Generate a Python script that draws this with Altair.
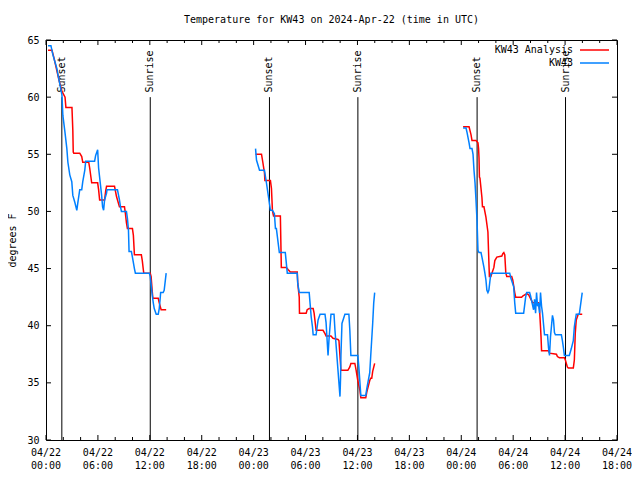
import altair as alt
import pandas as pd

# ---- data: hours since 2024-04-22 00:00 UTC, temperatures in degrees F ----
series_names = ["KW43 Analysis", "KW43"]
series_colors = ["#ff0000", "#0080ff"]

# KW43 Analysis (red)
an1_h = [0.23, 0.69, 0.9, 1.2, 1.5, 1.85, 2.2, 2.3, 3.0, 3.1, 3.15, 3.21, 3.9, 4.13, 4.25, 4.94, 5.05, 5.28,
         5.97, 6.08, 6.20, 6.77, 6.9, 7.0, 7.92, 8.15, 8.49, 9.07, 9.18, 9.30, 9.41, 9.99, 10.1, 10.22, 11.02,
         11.13, 11.25, 11.3, 12.05, 12.15, 12.28, 12.35, 12.97, 13.09, 13.31, 13.89]
an1_f = [64.1, 64.1, 63.5, 62.5, 61.5, 60.5, 60.0, 59.1, 59.1, 57.1, 55.2, 55.1, 55.1, 54.8, 54.3, 54.3, 53.8, 52.5,
         52.5, 51.9, 51.0, 51.0, 51.8, 52.2, 52.2, 51.3, 50.4, 50.4, 49.8, 49.0, 48.5, 48.5, 47.9, 46.2, 46.2,
         45.7, 44.9, 44.6, 44.6, 44.3, 43.0, 42.4, 42.4, 42.0, 41.4, 41.4]
an2_h = [24.22, 24.91, 25.02, 25.25, 25.30, 25.94, 26.06, 26.17, 26.30, 27.09, 27.20, 27.78, 28.0, 28.24, 29.04,
         29.10, 29.27, 29.30, 30.07, 30.19, 30.42, 30.88, 30.99, 31.22, 32.02, 32.25, 32.37, 32.94, 33.17, 33.75,
         33.86, 34.09, 34.89, 35.12, 35.24, 35.70, 35.85, 36.04, 36.27, 36.39, 36.96, 37.08, 37.42, 37.53, 37.65,
         37.76, 37.99]
an2_f = [55.0, 55.0, 54.5, 53.4, 52.7, 52.7, 52.0, 50.1, 49.6, 49.6, 45.1, 45.1, 44.9, 44.7, 44.7,
         43.7, 42.5, 41.1, 41.1, 41.4, 41.5, 41.5, 41.1, 39.6, 39.6, 39.3, 39.1, 39.1, 38.9, 38.8,
         38.7, 36.1, 36.1, 36.4, 36.7, 36.7, 36.1, 35.2, 34.4, 33.7, 33.7, 34.2, 35.2, 35.4, 35.4,
         36.0, 36.7]
an3_h = [48.21, 48.90, 49.13, 49.24, 49.70, 49.93, 50.00, 50.05, 50.10, 50.16, 50.39, 50.45, 50.62, 50.85, 51.08,
         51.19, 51.25, 51.42, 51.77, 51.88, 52.11, 52.69, 52.80, 52.92, 53.03, 53.15, 53.26, 53.83, 53.95, 54.18,
         54.29, 54.98, 55.10, 55.56, 55.79, 56.13, 56.24, 56.93, 57.05, 57.16, 57.22, 57.28, 58.08, 58.20, 59.00,
         59.11, 59.34, 59.92, 60.03, 60.26, 60.37, 60.95, 61.07, 61.18, 61.29, 61.52, 61.98]
an3_f = [57.4, 57.4, 56.7, 56.2, 56.2, 56.0, 55.5, 54.7, 53.0, 52.9, 51.2, 50.4, 50.4, 49.5, 48.2,
         45.6, 44.3, 44.3, 45.1, 45.7, 46.0, 46.1, 46.3, 46.4, 46.2, 44.6, 44.3, 44.3, 44.0, 42.9,
         42.5, 42.5, 42.6, 42.8, 42.7, 42.2, 42.0, 42.0, 41.4, 39.9, 39.0, 37.8, 37.8, 37.6, 37.5,
         37.3, 37.2, 37.2, 37.0, 36.4, 36.3, 36.3, 37.0, 39.4, 40.5, 41.0, 41.0]

# KW43 observations (blue)
ob1_h = [0.23, 0.57, 0.80, 1.03, 1.26, 1.38, 1.84, 1.95, 2.18, 2.41, 2.53, 2.75, 2.98, 3.10, 3.33, 3.56, 3.67,
         3.90, 4.13, 4.25, 4.48, 4.59, 5.62, 5.74, 5.97, 6.08, 6.43, 6.54, 6.66, 6.77, 7.00, 7.05, 8.26, 8.49,
         8.61, 8.72, 9.30, 9.41, 9.53, 9.60, 9.87, 9.99, 10.22, 10.33, 11.94, 12.05, 12.28, 12.40, 12.51, 12.74,
         12.97, 13.09, 13.20, 13.25, 13.54, 13.66, 13.89]
ob1_f = [64.5, 64.5, 63.7, 63.1, 62.5, 62.0, 60.2, 58.4, 57.0, 55.5, 54.3, 53.2, 52.6, 51.4, 50.8, 50.1, 50.7,
         51.9, 51.9, 52.6, 53.6, 54.4, 54.4, 54.9, 55.4, 53.8, 51.4, 50.4, 50.1, 51.0, 51.6, 51.9, 51.9, 51.0,
         50.4, 50.0, 50.0, 49.4, 48.4, 46.5, 46.5, 46.0, 45.0, 44.6, 44.6, 44.3, 42.7, 42.0, 41.5, 41.0,
         41.0, 41.5, 42.4, 42.9, 42.9, 43.1, 44.6]
ob2_h = [24.22, 24.33, 24.68, 25.25, 25.48, 25.94, 26.17, 26.40, 26.52, 26.63, 26.97, 27.66, 27.89, 29.04, 29.10,
         29.27, 30.42, 30.65, 30.80, 30.88, 31.22, 31.45, 31.68, 32.25, 32.37, 32.60, 32.71, 32.94, 33.29, 33.40,
         33.98, 34.05, 34.09, 34.21, 34.55, 35.01, 35.12, 35.24, 36.04, 36.16, 36.39, 36.96, 37.08, 37.42, 37.53,
         37.76, 37.88, 37.99]
ob2_f = [55.5, 54.5, 53.6, 53.6, 52.5, 50.1, 50.1, 49.8, 48.5, 48.5, 46.4, 46.4, 44.6, 44.6, 43.7,
         42.9, 42.9, 40.8, 39.9, 39.2, 39.2, 40.5, 41.0, 41.0, 40.3, 37.4, 38.8, 41.0, 41.0, 39.6,
         33.8, 35.5, 37.4, 40.2, 41.0, 41.0, 39.6, 37.4, 37.4, 36.4, 33.9, 33.9, 34.5, 35.9, 37.3,
         40.2, 42.0, 42.9]
ob3_h = [48.21, 48.55, 48.67, 48.90, 49.01, 49.24, 49.36, 49.47, 49.59, 49.70, 49.82, 49.93, 50.05, 50.28, 50.39,
         50.62, 50.73, 50.85, 50.96, 51.08, 51.19, 51.31, 51.42, 53.60, 53.72, 54.06, 54.18, 54.29, 55.21, 55.44,
         55.56, 55.90, 56.01, 56.36, 56.47, 56.59, 56.70, 56.82, 56.93, 57.05, 57.16, 57.28, 57.39, 57.62, 57.97,
         58.08, 58.20, 58.31, 58.54, 58.66, 58.77, 58.88, 59.57, 59.69, 59.80, 59.92, 60.49, 60.72, 60.95, 61.07,
         61.18, 61.29, 61.64, 61.75, 61.98]
ob3_f = [57.3, 57.3, 56.9, 56.0, 55.5, 55.5, 55.0, 53.6, 52.5, 51.0, 49.2, 46.6, 46.4, 46.4, 46.0,
         45.1, 44.6, 44.0, 43.1, 42.9, 43.1, 43.9, 44.6, 44.6, 44.2, 43.4, 42.0, 41.1, 41.1, 42.5,
         42.9, 42.9, 42.6, 41.4, 42.3, 41.1, 42.9, 41.7, 42.0, 41.1, 42.9, 41.7, 41.1, 39.2, 39.2,
         38.1, 37.4, 39.0, 40.9, 40.5, 39.4, 39.2, 39.2, 38.7, 38.1, 37.4, 37.4, 38.0, 38.7, 39.9,
         40.5, 41.0, 41.0, 41.6, 42.9]

event_names = ["Sunset", "Sunrise", "Sunset", "Sunrise", "Sunset", "Sunrise"]
event_hours = [1.83, 12.05, 25.83, 36.05, 49.83, 60.05]
event_top = 60.0

y_ticks = [30, 35, 40, 45, 50, 55, 60, 65]
x_major = [0, 6, 12, 18, 24, 30, 36, 42, 48, 54, 60, 66]
x_label_date = ["04/22", "04/22", "04/22", "04/22", "04/23", "04/23", "04/23", "04/23",
                "04/24", "04/24", "04/24", "04/24"]
x_label_time = ["00:00", "06:00", "12:00", "18:00"] * 3
x_minor = [2, 4, 8, 10, 14, 16, 20, 22, 26, 28, 32, 34, 38, 40, 44, 46, 50, 52, 56, 58, 62, 64]

title_text = "Temperature for KW43 on 2024-Apr-22 (time in UTC)"
FONT = "DejaVu Sans Mono"
W, H = 571, 400

rows = []
i = 0
for name, segs in [("KW43 Analysis", [(an1_h, an1_f), (an2_h, an2_f), (an3_h, an3_f)]),
                   ("KW43", [(ob1_h, ob1_f), (ob2_h, ob2_f), (ob3_h, ob3_f)])]:
    for s, (hs, fs) in enumerate(segs):
        for h, f in zip(hs, fs):
            rows.append({"series": name, "seg": s, "h": h, "f": f, "i": i})
            i += 1
df = pd.DataFrame(rows)

xs = alt.Scale(domain=[0, 66], nice=False, zero=False)
ys = alt.Scale(domain=[30, 65], nice=False, zero=False)


def series_layer(name, color):
    return alt.Chart(df[df.series == name]).mark_line(color=color, strokeWidth=1.5).encode(
        x=alt.X("h:Q", scale=xs, axis=None),
        y=alt.Y("f:Q", scale=ys, axis=None),
        detail="seg:N",
        order="i:Q",
    )


# base layer carrying the y axis
axes = alt.Chart(pd.DataFrame({"h": [0], "f": [30]})).mark_point(opacity=0).encode(
    x=alt.X("h:Q", scale=xs, axis=None),
    y=alt.Y("f:Q", scale=ys, axis=alt.Axis(values=y_ticks, title="degrees F", labelPadding=7,
                                             titlePadding=9)),
)

xlab_df = pd.DataFrame({"t": x_major, "d": x_label_date, "tm": x_label_time})
xlab1 = alt.Chart(xlab_df).mark_text(font=FONT, fontSize=10, color="black", align="center",
                                     baseline="middle").encode(
    x=alt.X("t:Q", scale=xs, axis=None), y=alt.value(H + 13), text="d:N")
xlab2 = alt.Chart(xlab_df).mark_text(font=FONT, fontSize=10, color="black", align="center",
                                     baseline="middle").encode(
    x=alt.X("t:Q", scale=xs, axis=None), y=alt.value(H + 26), text="tm:N")

ev_df = pd.DataFrame({"name": event_names, "h": event_hours, "lo": [30] * 6, "hi": [event_top] * 6,
                      "lab": [event_top + 0.4] * 6})
ev_rules = alt.Chart(ev_df).mark_rule(color="black", strokeWidth=1).encode(
    x=alt.X("h:Q", scale=xs, axis=None), y=alt.Y("lo:Q", scale=ys, axis=None), y2="hi:Q")
ev_text = alt.Chart(ev_df).mark_text(angle=270, align="left", baseline="middle", font=FONT,
                                     fontSize=10, color="black").encode(
    x=alt.X("h:Q", scale=xs, axis=None), y=alt.Y("lab:Q", scale=ys, axis=None), text="name:N")

yt = pd.DataFrame({"v": y_ticks})
yl = alt.Chart(yt).mark_rule(color="black").encode(
    y=alt.Y("v:Q", scale=ys, axis=None), x=alt.value(0), x2=alt.value(5))
yr = alt.Chart(yt).mark_rule(color="black").encode(
    y=alt.Y("v:Q", scale=ys, axis=None), x=alt.value(W - 5), x2=alt.value(W))
xM = pd.DataFrame({"t": x_major})
xm = pd.DataFrame({"t": x_minor})
xb = alt.Chart(xM).mark_rule(color="black").encode(
    x=alt.X("t:Q", scale=xs, axis=None), y=alt.value(H), y2=alt.value(H - 5))
xtp = alt.Chart(xM).mark_rule(color="black").encode(
    x=alt.X("t:Q", scale=xs, axis=None), y=alt.value(0), y2=alt.value(5))
xbm = alt.Chart(xm).mark_rule(color="black").encode(
    x=alt.X("t:Q", scale=xs, axis=None), y=alt.value(H), y2=alt.value(H - 3))
xtm = alt.Chart(xm).mark_rule(color="black").encode(
    x=alt.X("t:Q", scale=xs, axis=None), y=alt.value(0), y2=alt.value(3))

title = alt.Chart(pd.DataFrame({"t": [title_text]})).mark_text(
    font=FONT, fontSize=10, color="black", align="center", baseline="middle").encode(
    text="t:N", x=alt.value(W / 2), y=alt.value(-20))

legend_layers = []
for name, color, ypos in zip(series_names, series_colors, [10, 23]):
    ldf = pd.DataFrame({"name": [name]})
    legend_layers.append(alt.Chart(ldf).mark_text(font=FONT, fontSize=10, color="black", align="right",
                                                  baseline="middle").encode(
        text="name:N", x=alt.value(W - 44), y=alt.value(ypos)))
    legend_layers.append(alt.Chart(ldf).mark_rule(strokeWidth=1.5, color=color).encode(
        x=alt.value(W - 37), x2=alt.value(W - 8), y=alt.value(ypos)))

chart = alt.layer(
    axes, yl, yr, xb, xtp, xbm, xtm, ev_rules, ev_text,
    series_layer("KW43 Analysis", "#ff0000"), series_layer("KW43", "#0080ff"),
    xlab1, xlab2, title, *legend_layers,
).resolve_axis(x="independent", y="independent").properties(
    width=W, height=H, autosize="none",
    padding={"left": 38, "top": 32, "right": 15, "bottom": 32},
).configure_view(stroke="black", strokeWidth=1).configure_axis(
    domain=False, ticks=False, grid=False, labelFont=FONT, labelFontSize=10, labelColor="black",
    titleFont=FONT, titleFontSize=10, titleFontWeight="normal", titleColor="black",
)

chart.save("out.html", embed_options={"renderer": "svg", "actions": False})
